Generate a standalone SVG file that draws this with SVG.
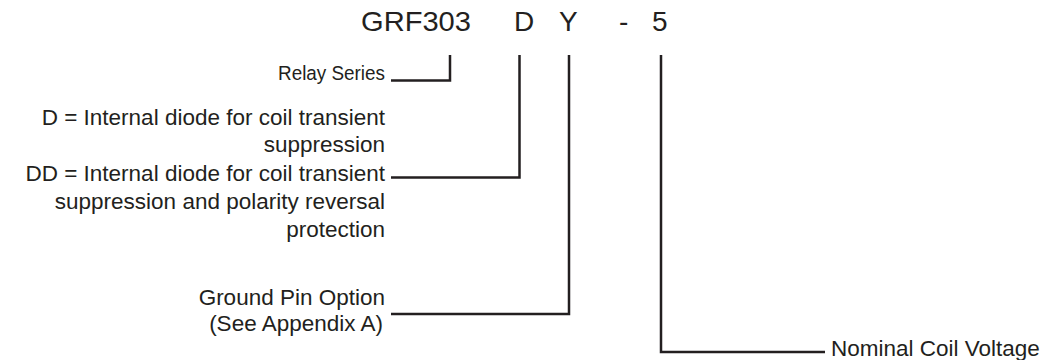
<svg xmlns="http://www.w3.org/2000/svg" width="1055" height="360" viewBox="0 0 1055 360">
  <style>
    .t { font-family: "Liberation Sans", Arial, sans-serif; fill: #231f20; }
    .title { font-size: 28px; }
    .body { font-size: 22.5px; text-anchor: end; }
    .conn { fill: none; stroke: #231f20; stroke-width: 2.5; stroke-linejoin: miter; }
  </style>
  <rect width="1055" height="360" fill="#ffffff"/>
  <g id="title">
    <text class="t title" x="361" y="31" textLength="110" lengthAdjust="spacingAndGlyphs">GRF303</text>
    <text class="t title" x="514" y="31">D</text>
    <text class="t title" x="559" y="31">Y</text>
    <text class="t title" x="619" y="31">-</text>
    <text class="t title" x="652" y="31">5</text>
  </g>
  <g id="connectors">
    <polyline class="conn" points="391,80.5 450,80.5 450,55"/>
    <polyline class="conn" points="391,177.5 519.5,177.5 519.5,55"/>
    <polyline class="conn" points="391,314 569,314 569,55"/>
    <polyline class="conn" points="825,352 661,352 661,55"/>
  </g>
  <g id="relay-series">
    <text class="t" x="278" y="80" font-size="20.5" textLength="107" lengthAdjust="spacingAndGlyphs">Relay Series</text>
  </g>
  <g id="diode-option">
    <text class="t body" x="385" y="124.5">D = Internal diode for coil transient</text>
    <text class="t body" x="385" y="152">suppression</text>
    <text class="t body" x="385" y="180.5">DD = Internal diode for coil transient</text>
    <text class="t body" x="385" y="209">suppression and polarity reversal</text>
    <text class="t body" x="385" y="237">protection</text>
  </g>
  <g id="ground-pin">
    <text class="t body" x="385" y="305">Ground Pin Option</text>
    <text class="t body" x="383" y="331">(See Appendix A)</text>
  </g>
  <g id="coil-voltage">
    <text class="t" x="831" y="356" font-size="22.5">Nominal Coil Voltage</text>
  </g>
</svg>
